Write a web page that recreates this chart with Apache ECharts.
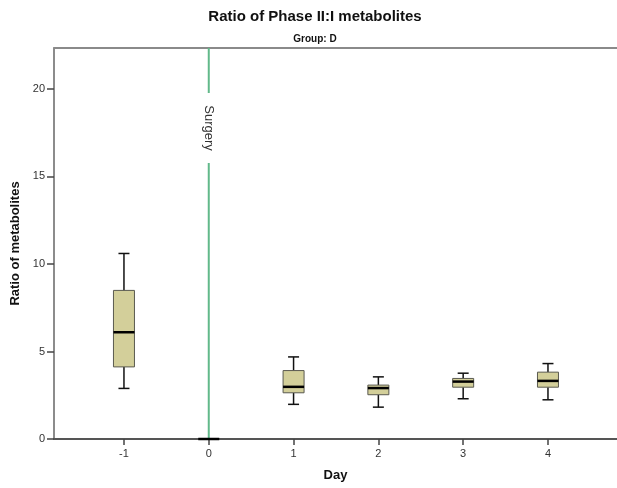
<!DOCTYPE html>
<html>
<head>
<meta charset="utf-8">
<script src="https://cdn.jsdelivr.net/npm/echarts@6/dist/echarts.min.js"></script>
<style>html,body{margin:0;padding:0;background:#fff}#c{width:617px;height:488px}</style>
</head>
<body>
<div id="c"></div>
<script>
// Data
const days = [-1, 0, 1, 2, 3, 4];
const whiskerLow  = [2.89, 0, 1.98, 1.82, 2.30, 2.24];
const q1          = [4.12, 0, 2.64, 2.53, 2.96, 2.96];
const median      = [6.10, 0, 2.98, 2.91, 3.28, 3.32];
const q3          = [8.49, 0, 3.91, 3.08, 3.46, 3.82];
const whiskerHigh = [10.6, 0, 4.69, 3.55, 3.76, 4.31];
const yTicks = [0, 5, 10, 15, 20];
const xTicks = [-1, 0, 1, 2, 3, 4];
const surgeryDay = 0;
const titleText = 'Ratio of Phase II:I metabolites';
const subtitleText = 'Group: D';

const Y_MAX = 22.34;
const boxData = days.map((d, i) => [d, whiskerLow[i], q1[i], median[i], q3[i], whiskerHigh[i]]);

function renderBox(params, api) {
  const x = api.value(0);
  const pMin = api.coord([x, api.value(1)]);
  const pQ1 = api.coord([x, api.value(2)]);
  const pMed = api.coord([x, api.value(3)]);
  const pQ3 = api.coord([x, api.value(4)]);
  const pMax = api.coord([x, api.value(5)]);
  const cx = pMed[0];
  const bw = 21, cw = 11;
  const children = [];
  if (pMax[1] !== pMin[1]) {
    children.push(
      {type: 'line', shape: {x1: cx, y1: pQ3[1], x2: cx, y2: pMax[1]}, style: {stroke: '#111', lineWidth: 1.5}},
      {type: 'line', shape: {x1: cx, y1: pQ1[1], x2: cx, y2: pMin[1]}, style: {stroke: '#111', lineWidth: 1.5}},
      {type: 'line', shape: {x1: cx - cw / 2, y1: pMax[1], x2: cx + cw / 2, y2: pMax[1]}, style: {stroke: '#111', lineWidth: 1.5}},
      {type: 'line', shape: {x1: cx - cw / 2, y1: pMin[1], x2: cx + cw / 2, y2: pMin[1]}, style: {stroke: '#111', lineWidth: 1.5}},
      {type: 'rect', shape: {x: cx - bw / 2, y: pQ3[1], width: bw, height: pQ1[1] - pQ3[1]}, style: {fill: '#d3cf9a', stroke: '#5a5a50', lineWidth: 1}}
    );
  }
  children.push({type: 'line', shape: {x1: cx - bw / 2, y1: pMed[1], x2: cx + bw / 2, y2: pMed[1]}, style: {stroke: '#000', lineWidth: 2.5}});
  return {type: 'group', children: children};
}

function renderSurgery(params, api) {
  const x = api.value(0);
  const pTop = api.coord([x, Y_MAX]);
  const pBot = api.coord([x, 0]);
  const gapTop = pTop[1] + 45;
  const gapBot = pTop[1] + 115;
  return {type: 'group', children: [
    {type: 'line', shape: {x1: pTop[0], y1: pTop[1], x2: pTop[0], y2: gapTop}, style: {stroke: '#62b98a', lineWidth: 2}},
    {type: 'line', shape: {x1: pTop[0], y1: gapBot, x2: pTop[0], y2: pBot[1]}, style: {stroke: '#62b98a', lineWidth: 2}},
    {type: 'text', x: pTop[0], y: (gapTop + gapBot) / 2, rotation: -Math.PI / 2,
      style: {text: 'Surgery', fill: '#333', font: '13px "Liberation Sans", Arial, sans-serif', align: 'center', verticalAlign: 'middle'}}
  ]};
}

const chart = echarts.init(document.getElementById('c'));
chart.setOption({
  animation: false,
  title: [
    {text: titleText, left: 310, top: 4, textAlign: 'center',
     textStyle: {fontFamily: '"Liberation Sans", Arial, sans-serif', fontSize: 15, fontWeight: 'bold', color: '#111'}},
    {text: subtitleText, left: 310, top: 29, textAlign: 'center',
     textStyle: {fontFamily: '"Liberation Sans Narrow", "Liberation Sans", Arial, sans-serif', fontSize: 10, fontWeight: 'bold', color: '#111'}}
  ],
  grid: {left: 54, right: 0, top: 48, bottom: 49},
  xAxis: [
    {type: 'value', min: -1.825, max: 4.814, position: 'bottom',
     name: 'Day', nameLocation: 'middle', nameGap: 30,
     nameTextStyle: {fontFamily: '"Liberation Sans", Arial, sans-serif', fontSize: 13, fontWeight: 'bold', color: '#111'},
     axisLine: {show: true, onZero: false, lineStyle: {color: '#555', width: 2}},
     axisTick: {show: true, length: 6, customValues: xTicks, lineStyle: {color: '#444', width: 1.5}},
     axisLabel: {customValues: xTicks, margin: 9, fontFamily: '"Liberation Sans", Arial, sans-serif', fontSize: 11, color: '#333'},
     splitLine: {show: false}},
    {type: 'value', min: -1.825, max: 4.814, position: 'top',
     axisLine: {show: true, onZero: false, lineStyle: {color: '#8a8a8a', width: 2}},
     axisTick: {show: false}, axisLabel: {show: false}, splitLine: {show: false}}
  ],
  yAxis: {type: 'value', min: 0, max: Y_MAX, position: 'left',
    name: 'Ratio of metabolites', nameLocation: 'middle', nameGap: 27, nameRotate: 90,
    nameTextStyle: {fontFamily: '"Liberation Sans", Arial, sans-serif', fontSize: 13, fontWeight: 'bold', color: '#111'},
    axisLine: {show: true, onZero: false, lineStyle: {color: '#666', width: 1.5}},
    axisTick: {show: true, length: 7, customValues: yTicks, lineStyle: {color: '#444', width: 1.5}},
    axisLabel: {customValues: yTicks, margin: 9, fontFamily: '"Liberation Sans", Arial, sans-serif', fontSize: 11, color: '#333'},
    splitLine: {show: false}},
  series: [
    {type: 'custom', renderItem: renderSurgery, data: [[surgeryDay]], xAxisIndex: 0, clip: false, z: 1},
    {type: 'custom', renderItem: renderBox, data: boxData, xAxisIndex: 0, encode: {x: 0, y: [1, 2, 3, 4, 5]}, clip: false, z: 2}
  ]
});
</script>
</body>
</html>
